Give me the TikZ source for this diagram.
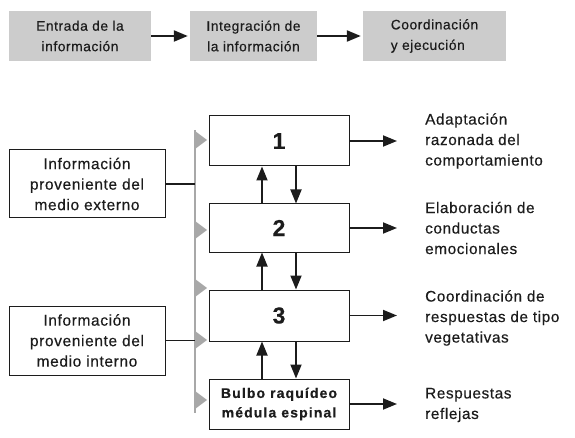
\documentclass[tikz,border=0pt]{standalone}
\usepackage{fontspec}
\setmainfont{Liberation Sans}[LetterSpace=4,FakeBold=0.4]
\usetikzlibrary{arrows.meta,positioning}
\definecolor{boxgray}{RGB}{204,204,204}
\definecolor{railgray}{RGB}{168,168,168}
\definecolor{ink}{RGB}{28,28,28}

\begin{document}
\begin{tikzpicture}[x=1pt,y=-1pt,
  stage/.style={fill=boxgray, minimum height=50pt, inner sep=0pt, text=ink, align=center, font=\fontsize{13.8}{20.5}\selectfont},
  level/.style={draw=ink, line width=1pt, fill=white, minimum width=140pt, minimum height=50pt, inner sep=0pt, text=ink},
  source/.style={draw=ink, line width=1pt, minimum width=156pt, minimum height=68pt, inner sep=0pt, align=center, text=ink, font=\fontsize{15.5}{20.5}\selectfont},
  result/.style={anchor=west, align=left, inner sep=0pt, text=ink, font=\fontsize{15.3}{20.5}\selectfont},
  arr/.style={draw=ink, line width=1.8pt, -{Triangle[length=14pt,width=11pt]}}
]
\useasboundingbox (0,0) rectangle (575,438);

% Top row of stages
\node[stage, minimum width=142pt] (entrada) at (80,36) {Entrada de la\\información};
\node[stage, minimum width=127pt] (integra) at (253.5,36) {Integración de\\la información};
\node[stage, minimum width=143pt, align=left] (coord) at (434.5,36) {Coordinación\\y ejecución};
\draw[arr, line width=2.2pt, shorten >=2pt] (entrada.east) -- (integra.west);
\draw[arr, line width=2.2pt, shorten >=2pt] (integra.east) -- (coord.west);

% Gray rail with input triangles
\draw[railgray, line width=1.8pt] (195,130) coordinate (railtop) -- (195,413) coordinate (railbot);
\foreach \y in {140,230,288,340,400}
  \fill[railgray] (195,\y-9) -- (207,\y) -- (195,\y+9) -- cycle;

% Levels
\node[level, font=\fontsize{23}{24}\selectfont\bfseries] (n1) at (279,141) {1};
\node[level, font=\fontsize{23}{24}\selectfont\bfseries, minimum height=48pt] (n2) at (279,228) {2};
\node[level, font=\fontsize{23}{24}\selectfont\bfseries, minimum height=51pt] (n3) at (279,315.5) {3};
\node[level, align=center, font=\addfontfeatures{LetterSpace=8}\fontsize{14}{19.5}\selectfont\bfseries] (bulbo) at (279,404) {Bulbo raquídeo\\médula espinal};

% Up and down links
\foreach \lo/\hi in {n2/n1, n3/n2, bulbo/n3} {
  \draw[arr] ([xshift=-17pt]\lo.north) -- ([xshift=-17pt]\hi.south);
  \draw[arr] ([xshift=17pt]\hi.south) -- ([xshift=17pt]\lo.north);
}

% Sources
\node[source] (externo) at (87,184) {Información\\proveniente del\\medio externo};
\node[source, minimum height=69pt] (interno) at (87,340.5) {Información\\proveniente del\\medio interno};
\draw[ink, line width=1.8pt] (externo.east) -- (externo.east -| railtop);
\draw[ink, line width=1.8pt] (interno.east) -- (interno.east -| railtop);

% Outputs
\node[result] (out1) at (425,141) {Adaptación\\razonada del\\comportamiento};
\node[result] (out2) at (425,228) {Elaboración de\\conductas\\emocionales};
\node[result] (out3) at (425,318) {Coordinación de\\respuestas de tipo\\vegetativas};
\node[result] (out4) at (425,405) {Respuestas\\reflejas};
\draw[arr, shorten >=28pt] (n1.east) -- (out1.west |- n1.east);
\draw[arr, shorten >=28pt] (n2.east) -- (out2.west |- n2.east);
\draw[arr, shorten >=28pt] (n3.east) -- (out3.west |- n3.east);
\draw[arr, shorten >=28pt] (bulbo.east) -- (out4.west |- bulbo.east);
\end{tikzpicture}
\end{document}
